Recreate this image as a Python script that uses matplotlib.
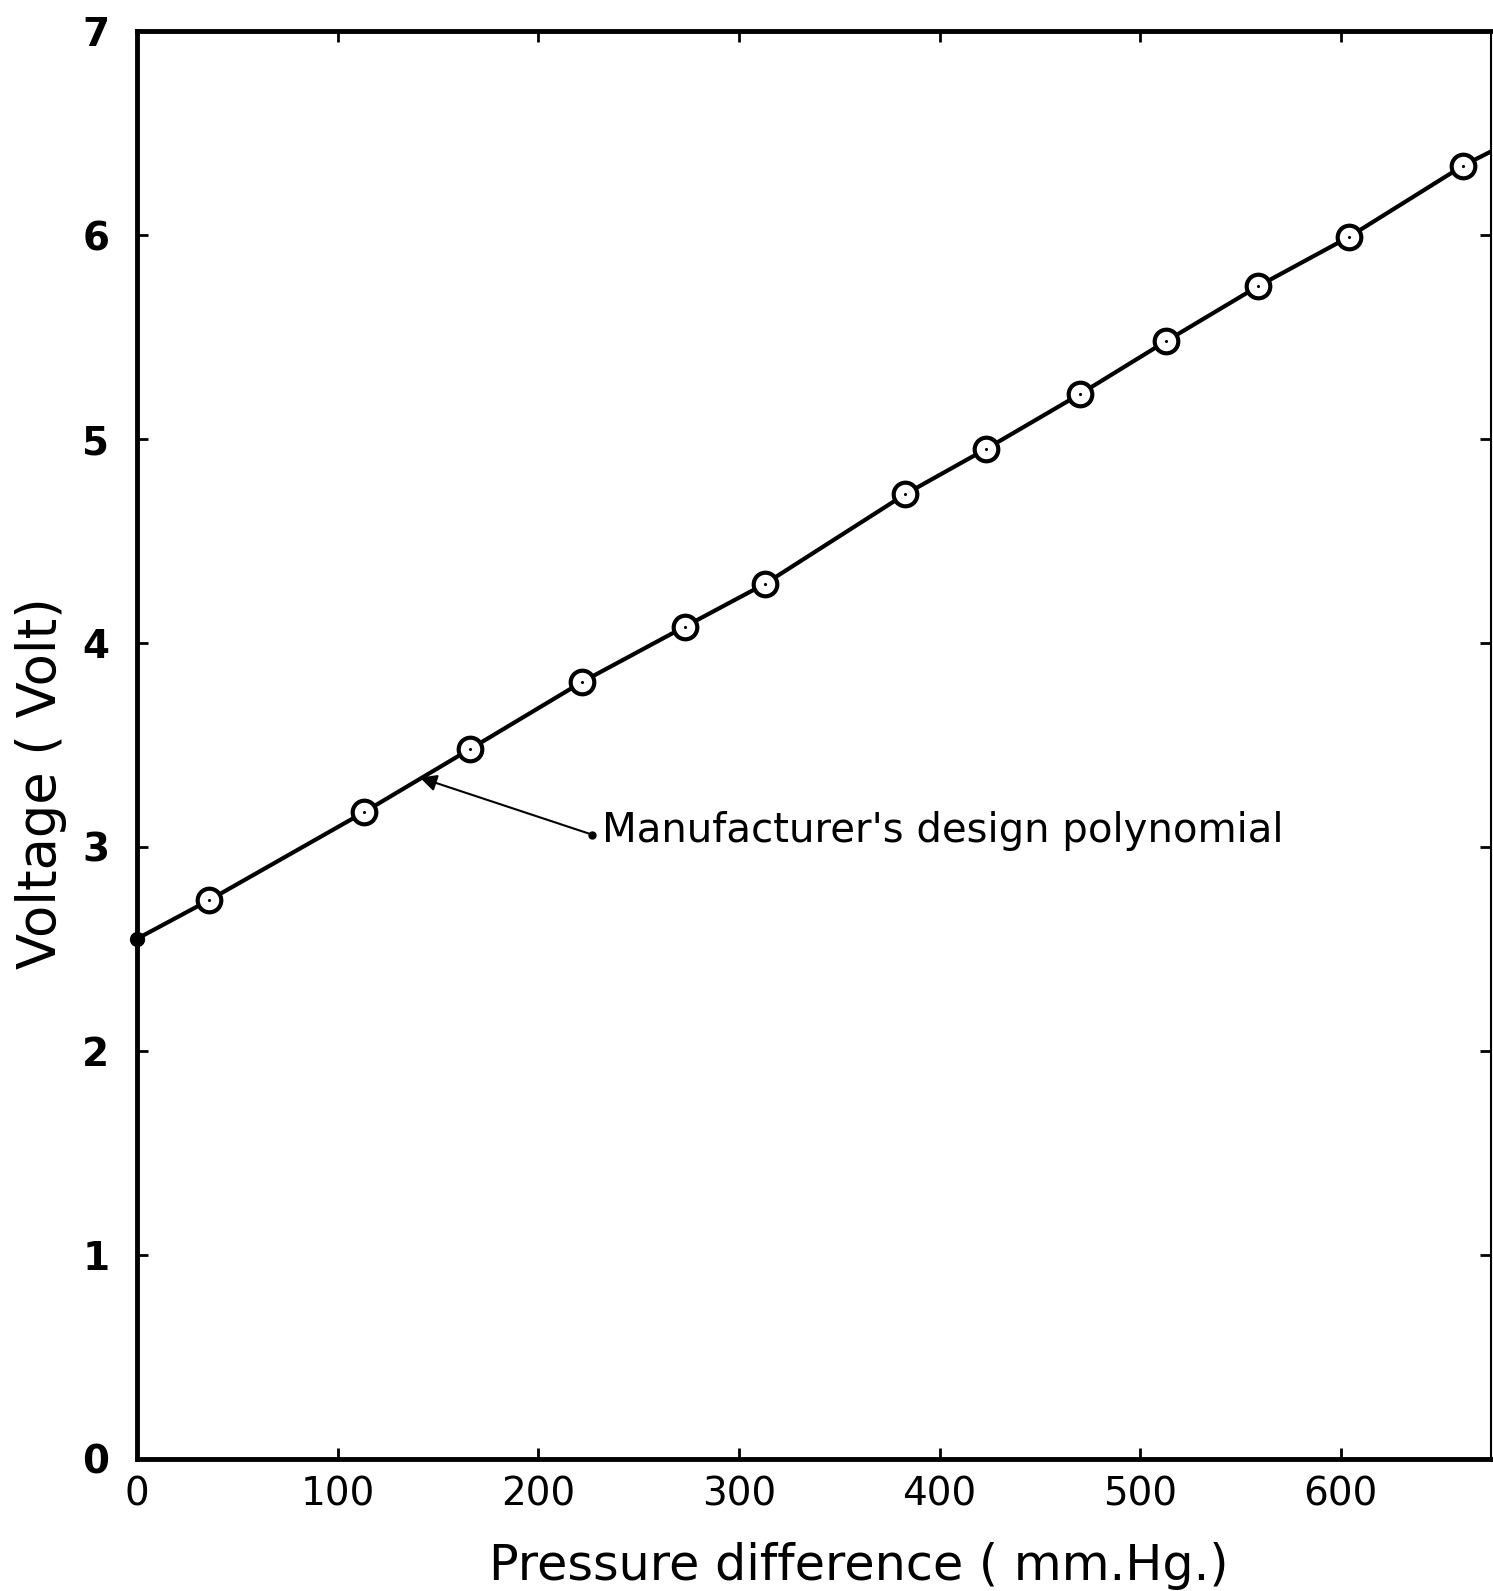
import matplotlib.pyplot as plt
import numpy as np

# measured calibration points (mm.Hg, Volt)
pressure = [36, 113, 166, 222, 273, 313, 383, 423, 470, 513, 559, 604, 661]
voltage = [2.74, 3.17, 3.48, 3.81, 4.08, 4.29, 4.73, 4.95, 5.22, 5.48, 5.75, 5.99, 6.34]

# manufacturer's design polynomial (linear)
design_x = [0, 36, 113, 166, 222, 273, 313, 383, 423, 470, 513, 559, 604, 661, 675]
design_y = [2.55, 2.74, 3.17, 3.48, 3.81, 4.08, 4.29, 4.73, 4.95, 5.22, 5.48, 5.75, 5.99, 6.34, 6.41]

x_ticks = [0, 100, 200, 300, 400, 500, 600]
y_ticks = [0, 1, 2, 3, 4, 5, 6, 7]

fig = plt.figure(figsize=(14.93, 15.91), dpi=100)
ax = fig.add_axes([0.0918, 0.083, 0.907, 0.8975])

ax.plot(design_x, design_y, color="black", lw=3, solid_capstyle="butt", zorder=2)
ax.plot(design_x[:1], design_y[:1], "o", color="black", ms=10, clip_on=False, zorder=3)
ax.plot(pressure, voltage, "o", ms=17, mfc="white", mec="black", mew=3, zorder=4)
ax.plot(pressure, voltage, ".", ms=2.5, color="black", zorder=5)

ax.annotate("", xy=(141, 3.34), xytext=(227, 3.06),
            arrowprops=dict(arrowstyle="-|>", color="black", lw=1.5,
                            mutation_scale=25, shrinkA=0, shrinkB=0))
ax.plot([227], [3.06], "o", color="black", ms=5)
ax.text(232, 3.08, "Manufacturer's design polynomial", fontsize=29,
        va="center", ha="left")

ax.set_xlim(0, 675)
ax.set_ylim(0, 7)
ax.set_xticks(x_ticks)
ax.set_yticks(y_ticks)
ax.tick_params(direction="in", length=8, width=2, top=True, right=True,
               labelsize=28)
ax.tick_params(axis="x", pad=12)
ax.tick_params(axis="y", pad=20)
for lab in ax.get_yticklabels():
    lab.set_fontweight("bold")

for side in ["left", "bottom", "top"]:
    ax.spines[side].set_linewidth(3.5)
ax.spines["right"].set_linewidth(1.5)

ax.set_xlabel("Pressure difference ( mm.Hg.)", fontsize=35.5)
ax.set_ylabel("Voltage ( Volt)", fontsize=38, va="center")
ax.xaxis.set_label_coords(0.533, -0.058)
ax.yaxis.set_label_coords(-0.071, 0.473)

fig.savefig("out.png", dpi=100)
